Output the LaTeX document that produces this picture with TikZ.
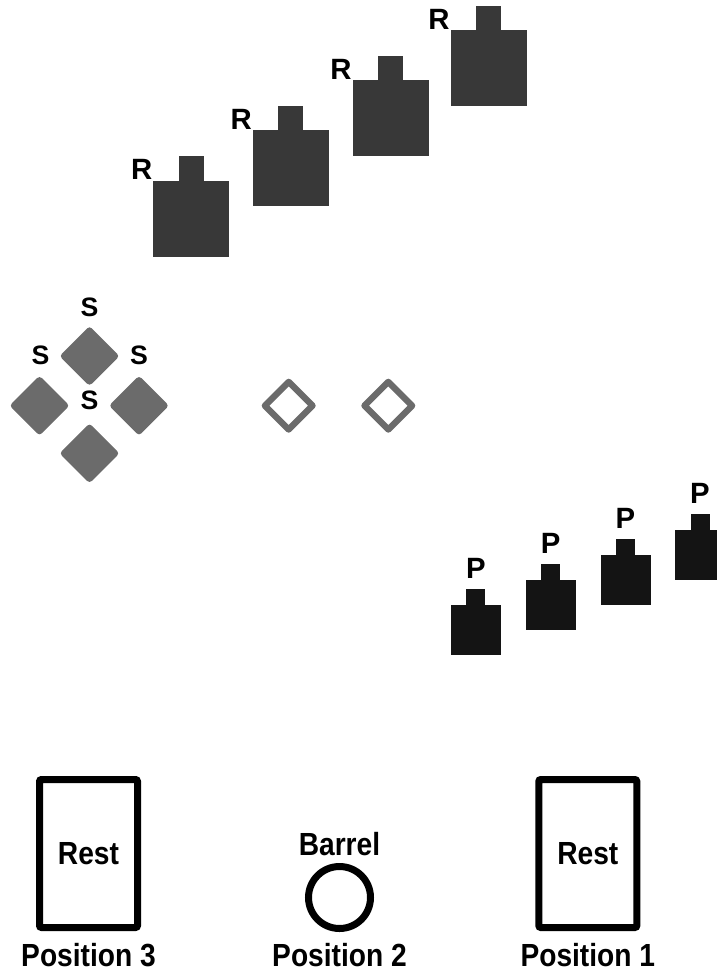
\documentclass[tikz,border=0pt]{standalone}
\usepackage{fontspec}
\setmainfont{Liberation Sans}
\newfontfamily\narrowfont[FakeStretch=0.88]{Liberation Sans}
\usetikzlibrary{positioning,shapes.geometric}
\definecolor{rgray}{HTML}{383838}
\definecolor{sgray}{HTML}{6B6B6B}
\definecolor{pblack}{HTML}{141414}

\begin{document}
\begin{tikzpicture}[x=0.75pt, y=-0.75pt,
    rbody/.style={fill=rgray, minimum width=57pt, minimum height=57pt, inner sep=0pt, outer sep=0pt},
    rtab/.style={fill=rgray, minimum width=18.75pt, minimum height=18.75pt, inner sep=0pt, outer sep=0pt, anchor=south},
    pbody/.style={fill=pblack, minimum width=37.5pt, minimum height=37.5pt, inner sep=0pt, outer sep=0pt},
    ptab/.style={fill=pblack, minimum width=14.25pt, minimum height=12pt, inner sep=0pt, outer sep=0pt, anchor=south},
    sdiam/.style={diamond, fill=sgray, minimum width=45pt, minimum height=45pt, inner sep=0pt, outer sep=0pt, rounded corners=2.5pt},
    odiam/.style={diamond, draw=sgray, line width=4.8pt, line join=round, minimum width=35.7pt, minimum height=35.7pt, inner sep=0pt, outer sep=0pt},
    restbox/.style={draw, line width=5.25pt, rounded corners=1.5pt, minimum width=73.5pt, minimum height=111pt, inner sep=0pt, outer sep=0pt, font=\narrowfont\bfseries\fontsize{24}{28}\selectfont},
    barrel/.style={circle, draw, line width=5.25pt, minimum size=46.5pt, inner sep=0pt, outer sep=0pt},
    tag/.style={font=\bfseries\fontsize{22}{26}\selectfont, inner sep=0.5pt},
    stag/.style={font=\bfseries\fontsize{20}{24}\selectfont, inner sep=0pt},
    poslabel/.style={font=\narrowfont\bfseries\fontsize{24}{28}\selectfont, inner sep=0pt, outer sep=0pt},
]
\useasboundingbox (0,0) rectangle (717,972);

% R targets
\node[rbody] (r1) at (191.2,218.5) {};
\node[rbody] (r2) at (290.7,168.4) {};
\node[rbody] (r3) at (390.5,118.4) {};
\node[rbody] (r4) at (488.5,68.4) {};
\node[rtab] (r1t) at ([yshift=-0.3pt]r1.north) {};
\node[rtab] (r2t) at ([yshift=-0.3pt]r2.north) {};
\node[rtab] (r3t) at ([yshift=-0.3pt]r3.north) {};
\node[rtab] (r4t) at ([yshift=-0.3pt]r4.north) {};
\node[tag, anchor=south east] (r1l) at (r1.north west) {R};
\node[tag, anchor=south east] (r2l) at (r2.north west) {R};
\node[tag, anchor=south east] (r3l) at (r3.north west) {R};
\node[tag, anchor=south east] (r4l) at (r4.north west) {R};

% S group
\node[sdiam] (s1) at (89.5,356) {};
\node[sdiam] (s2) at (39.5,405.7) {};
\node[sdiam] (s3) at (139,405.7) {};
\node[sdiam] (s4) at (89.5,453.3) {};
\node[stag] (s1l) at (89.5,307) {S};
\node[stag] (s2l) at (40.5,355) {S};
\node[stag] (s3l) at (139,355) {S};
\node[stag] (s4l) at (89.5,400) {S};

% empty spots
\node[odiam] (o1) at (288.7,405.7) {};
\node[odiam] (o2) at (388.3,405.7) {};

% P targets
\node[pbody] (p1) at (475.8,630) {};
\node[pbody] (p2) at (550.7,604.8) {};
\node[pbody] (p3) at (625.5,580) {};
\node[pbody] (p4) at (700,555) {};
\node[ptab] (p1t) at ([yshift=-0.3pt]p1.north) {};
\node[ptab] (p2t) at ([yshift=-0.3pt]p2.north) {};
\node[ptab] (p3t) at ([yshift=-0.3pt]p3.north) {};
\node[ptab] (p4t) at ([yshift=-0.3pt]p4.north) {};
\node[tag, above=7.5pt of p1t] (p1l) {P};
\node[tag, above=7.5pt of p2t] (p2l) {P};
\node[tag, above=7.5pt of p3t] (p3l) {P};
\node[tag, above=7.5pt of p4t] (p4l) {P};

% positions
\node[restbox] (pos3) at (88.5,853.5) {Rest};
\node[barrel] (pos2) at (339.5,897.5) {};
\node[restbox] (pos1) at (587.8,853.5) {Rest};
\node[poslabel, above=8pt of pos2] (barrell) {Barrel};
\node[poslabel, below=12pt of pos3] (pos3l) {Position 3};
\node[poslabel, below=11.3pt of pos2] (pos2l) {Position 2};
\node[poslabel, below=12pt of pos1] (pos1l) {Position 1};
\end{tikzpicture}
\end{document}
